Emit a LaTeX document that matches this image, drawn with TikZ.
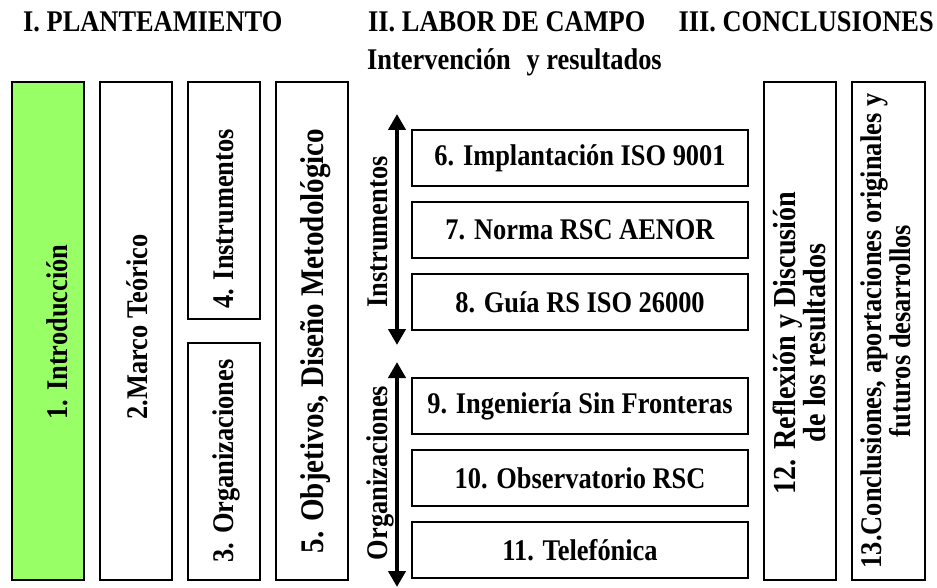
\documentclass[tikz,border=0pt]{standalone}
\usepackage{fontspec}
\setmainfont{Liberation Serif}[FakeStretch=0.88]
\usetikzlibrary{arrows.meta}
\definecolor{introgreen}{RGB}{153,255,102}
\begin{document}
\begin{tikzpicture}[x=1pt,y=-1pt,
  box/.style={draw=black, line width=1.6pt, inner sep=0pt, outer sep=0pt},
  vbox/.style={box, minimum width=72pt, minimum height=498pt},
  halfbox/.style={box, minimum width=72pt, minimum height=237pt},
  hbox/.style={box, minimum width=336pt, minimum height=56pt, font=\bfseries\fontsize{30}{32}\selectfont},
  title/.style={font=\bfseries\fontsize{30}{32}\selectfont, inner sep=0pt},
  vtext/.style={rotate=90, anchor=base, inner sep=0pt, font=\bfseries\fontsize{30}{32}\selectfont},
  vtwo/.style={rotate=90, anchor=center, inner sep=0pt, align=center, font=\bfseries\fontsize{30}{27}\selectfont},
  bigarrow/.style={line width=4pt, {Triangle[length=16pt,width=17pt]}-{Triangle[length=16pt,width=17pt]}}
]
\useasboundingbox (0,0) rectangle (937,588);

% titles
\node[title, anchor=base west] (t1) at (23,32) {I. PLANTEAMIENTO};
\node[title, anchor=base west] (t2) at (368,32) {II. LABOR DE CAMPO};
\node[title, anchor=base east] (t3) at (934,32) {III. CONCLUSIONES};
\node[title, anchor=base west] (t4) at (367,70) {Intervención\hspace{0.3em} y resultados};

% left boxes
\node[vbox, fill=introgreen] (b1) at (48,331) {};
\node[vbox] (b2) at (136,331) {};
\node[halfbox] (b4) at (224,200.5) {};
\node[halfbox] (b3) at (224,461.5) {};
\node[vbox] (b5) at (312,331) {};

\node[vtext] (l1) at (67,332) {1. Introducción};
\node[vtext] (l2) at (147,327) {2.Marco Teórico};
\node[vtext] (l3) at (233,461) {3. Organizaciones};
\node[vtext] (l4) at (233,219) {4. Instrumentos};
\node[vtext, font=\bfseries\fontsize{33}{35}\selectfont] (l5) at (323,341) {5. Objetivos, Diseño Metodológico};

% middle
\node[hbox] (b6) at (580,158) {6. Implantación ISO 9001};
\node[hbox] (b7) at (580,230) {7. Norma RSC AENOR};
\node[hbox] (b8) at (580,302) {8. Guía RS ISO 26000};
\node[hbox] (b9) at (580,406) {9. Ingeniería Sin Fronteras};
\node[hbox] (b10) at (580,478) {10. Observatorio RSC};
\node[hbox] (b11) at (580,550) {11. Telefónica};

\coordinate (a1top) at (397,114);
\coordinate (a1bot) at (397,345);
\coordinate (a2top) at (397,362);
\coordinate (a2bot) at (397,587);
\draw[bigarrow] (a1top) -- (a1bot);
\draw[bigarrow] (a2top) -- (a2bot);
\node[vtext] (lin) at (387,232) {Instrumentos};
\node[vtext] (lorg) at (387,473) {Organizaciones};

% right boxes
\node[vbox] (b12) at (800,331) {};
\node[box, minimum width=73pt, minimum height=498pt] (b13) at (888.5,331) {};
\node[vtwo, font=\bfseries\fontsize{32}{28}\selectfont] (l12) at (799,343) {12. Reflexión y Discusión\\de los resultados};
\node[vtwo] (l13) at (886,331) {13.Conclusiones, aportaciones originales y\\futuros desarrollos};
\end{tikzpicture}
\end{document}
